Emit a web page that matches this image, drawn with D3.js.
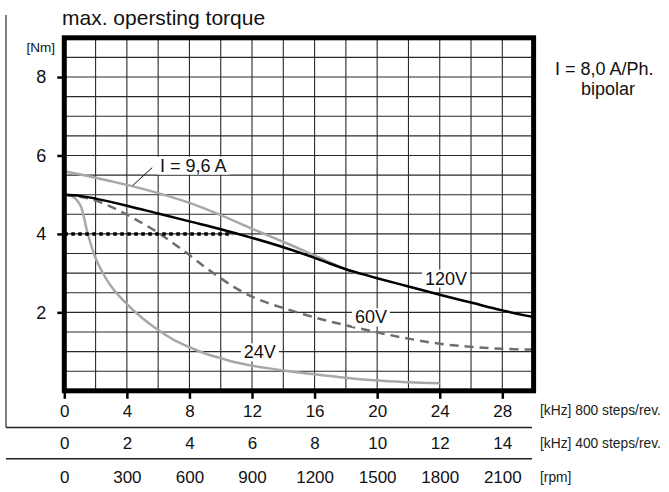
<!DOCTYPE html>
<html>
<head>
<meta charset="utf-8">
<script src="https://cdn.jsdelivr.net/npm/d3@7"></script>
<style>
  html, body { margin: 0; padding: 0; background: #fff; }
  svg { display: block; font-family: "Liberation Sans", Arial, sans-serif; }
</style>
</head>
<body>
<svg id="chart" width="669" height="492"></svg>
<script>
// ---- Data ----
const kHz800Ticks = [0, 4, 8, 12, 16, 20, 24, 28];
const kHz400Ticks = [0, 2, 4, 6, 8, 10, 12, 14];
const rpmTicks = [0, 300, 600, 900, 1200, 1500, 1800, 2100];
const torqueTicks = [2, 4, 6, 8];

// curve: I = 9,6 A (light gray)
const curve96A = [[0,5.6],[2,5.43],[4,5.25],[6,5.04],[8,4.79],[10,4.48],[12,4.13],[14,3.8],[16,3.45],[18,3.1],[19,2.97]];
// curve: 120V (black)
const curve120V = [[0,5.0],[1,4.97],[2,4.9],[4,4.72],[6,4.52],[8,4.32],[10,4.12],[12,3.9],[14,3.66],[16,3.39],[17,3.24],[18,3.1],[19,2.98],[20,2.87],[22,2.66],[24,2.45],[26,2.25],[28,2.05],[30,1.88]];
// curve: 60V (dashed)
const curve60V = [[0,5.0],[1,4.95],[2,4.85],[3,4.69],[4,4.49],[5,4.27],[6,4.03],[7,3.75],[8,3.46],[9,3.15],[10,2.87],[11,2.61],[12,2.4],[13,2.24],[14,2.11],[16,1.87],[18,1.67],[20,1.49],[22,1.33],[24,1.2],[26,1.12],[28,1.07],[30,1.05]];
// curve: 24V (light gray)
const curve24V = [[0,5.0],[0.5,4.96],[1,4.75],[1.5,4.0],[2,3.38],[2.5,2.98],[3,2.66],[4,2.21],[5,1.85],[6,1.55],[7,1.3],[8,1.11],[9,0.95],[10,0.83],[11,0.72],[12,0.64],[14,0.52],[16,0.42],[18,0.33],[20,0.26],[22,0.22],[24,0.19]];
// dotted limit line 4 Nm
const limit4Nm = [[0,4.0],[10.75,4.0]];

const curveLabels = [
  {text: "I = 9,6 A", x: 8.24, y: 5.74},
  {text: "120V", x: 24.4, y: 2.86},
  {text: "60V", x: 19.6, y: 1.87},
  {text: "24V", x: 12.5, y: 0.98}
];
const leader96A = [[4.36,5.23],[5.62,5.69]];

// ---- Scales ----
const svg = d3.select("#chart");
const x = d3.scaleLinear().domain([0, 30]).range([64.3, 533.6]);
const y = d3.scaleLinear().domain([0, 9]).range([390.8, 37.8]);
const x400 = d3.scaleLinear().domain([0, 15]).range(x.range());
const xrpm = d3.scaleLinear().domain([0, 2250]).range(x.range());
const FONT = "Liberation Sans, Arial, sans-serif";

// ---- Outer guide lines ----
svg.append("line").attr("x1", 6).attr("x2", 6).attr("y1", 15).attr("y2", 427.5)
  .attr("stroke", "#555").attr("stroke-width", 1.5);
svg.append("line").attr("x1", 6).attr("x2", 532).attr("y1", 427.5).attr("y2", 427.5)
  .attr("stroke", "#222").attr("stroke-width", 1.5);
svg.append("line").attr("x1", 6).attr("x2", 532).attr("y1", 458.7).attr("y2", 458.7)
  .attr("stroke", "#222").attr("stroke-width", 1.5);

// ---- Grid ----
const grid = svg.append("g");
grid.selectAll(".vg").data(d3.range(2, 30, 2)).join("line")
  .attr("x1", d => x(d)).attr("x2", d => x(d)).attr("y1", y(9)).attr("y2", y(0))
  .attr("stroke", "#2a2a2a").attr("stroke-width", 1.1);
grid.selectAll(".hg").data(d3.range(0.5, 9, 0.5)).join("line")
  .attr("x1", x(0)).attr("x2", x(30)).attr("y1", d => y(d)).attr("y2", d => y(d))
  .attr("stroke", "#2a2a2a").attr("stroke-width", 1.1);

// ---- Label backgrounds (white boxes) ----
const labG = svg.append("g");
const labTexts = curveLabels.map(l => {
  return labG.append("text").attr("x", x(l.x)).attr("y", y(l.y))
    .attr("text-anchor", "middle").attr("dominant-baseline", "central")
    .attr("font-size", 18).attr("fill", "#111").text(l.text);
});
labTexts.forEach(t => {
  const b = t.node().getBBox();
  labG.insert("rect", "text").attr("x", b.x - 3).attr("y", b.y + 1)
    .attr("width", b.width + 6).attr("height", b.height - 2).attr("fill", "#fff");
});

// ---- Curves ----
const line = d3.line().x(d => x(d[0])).y(d => y(d[1])).curve(d3.curveCatmullRom.alpha(0.5));
const straight = d3.line().x(d => x(d[0])).y(d => y(d[1]));
const curvesG = svg.append("g").attr("fill", "none");
curvesG.append("path").datum(curve96A).attr("d", line).attr("stroke", "#a8a8a8").attr("stroke-width", 2.5);
curvesG.append("path").datum(curve24V).attr("d", line).attr("stroke", "#a8a8a8").attr("stroke-width", 2.5);
curvesG.append("path").datum(curve60V).attr("d", line).attr("stroke", "#6e6e6e").attr("stroke-width", 2.5)
  .attr("stroke-dasharray", "9,6");
curvesG.append("path").datum(curve120V).attr("d", line).attr("stroke", "#000").attr("stroke-width", 2.5);
curvesG.append("path").datum(limit4Nm).attr("d", straight)
  .attr("stroke", "#000").attr("stroke-width", 3.5).attr("stroke-dasharray", "3.5,3.5");
curvesG.append("path").datum(leader96A).attr("d", straight)
  .attr("stroke", "#111").attr("stroke-width", 1);

labG.raise();

// ---- Frame ----
svg.append("rect").attr("x", x(0)).attr("y", y(9)).attr("width", x(30) - x(0)).attr("height", y(0) - y(9))
  .attr("fill", "none").attr("stroke", "#000").attr("stroke-width", 5);

// ---- Axes ----
const xAxis = svg.append("g").attr("transform", `translate(0,${y(0)})`)
  .call(d3.axisBottom(x).tickValues(kHz800Ticks).tickSize(8).tickPadding(6).tickSizeOuter(0));
xAxis.select(".domain").remove();
xAxis.selectAll(".tick line").attr("stroke", "#000").attr("stroke-width", 2.5);
xAxis.selectAll(".tick text").attr("font-size", 17).attr("fill", "#111").attr("font-family", FONT);

const yAxis = svg.append("g").attr("transform", `translate(${x(0)},0)`)
  .call(d3.axisLeft(y).tickValues(torqueTicks).tickSize(7).tickPadding(11).tickSizeOuter(0));
yAxis.select(".domain").remove();
yAxis.selectAll(".tick line").attr("stroke", "#000").attr("stroke-width", 2.5);
yAxis.selectAll(".tick text").attr("font-size", 18).attr("fill", "#111").attr("font-family", FONT);

const ax400 = svg.append("g").attr("transform", "translate(0,432.5)")
  .call(d3.axisBottom(x400).tickValues(kHz400Ticks).tickSize(0).tickPadding(4).tickFormat(d3.format("d")));
ax400.select(".domain").remove();
ax400.selectAll(".tick text").attr("font-size", 17).attr("fill", "#111").attr("font-family", FONT);

const axRpm = svg.append("g").attr("transform", "translate(0,466.5)")
  .call(d3.axisBottom(xrpm).tickValues(rpmTicks).tickSize(0).tickPadding(4).tickFormat(d3.format("d")));
axRpm.select(".domain").remove();
axRpm.selectAll(".tick text").attr("font-size", 17).attr("fill", "#111").attr("font-family", FONT);

// ---- Texts ----
svg.append("text").attr("x", 62).attr("y", 25).attr("font-size", 21).attr("fill", "#111")
  .text("max. opersting torque");
svg.append("text").attr("x", 55).attr("y", 51.5).attr("text-anchor", "end").attr("font-size", 13.5).attr("fill", "#111")
  .text("[Nm]");
svg.append("text").attr("x", 555).attr("y", 75).attr("font-size", 18).attr("fill", "#111")
  .text("I = 8,0 A/Ph.");
svg.append("text").attr("x", 608).attr("y", 95).attr("text-anchor", "middle").attr("font-size", 18).attr("fill", "#111")
  .text("bipolar");
const unitLabels = ["[kHz] 800 steps/rev.", "[kHz] 400 steps/rev.", "[rpm]"];
const unitY = [414.5, 448, 482];
unitLabels.forEach((t, i) => {
  svg.append("text").attr("x", 540).attr("y", unitY[i]).attr("font-size", 13.8).attr("fill", "#222").text(t);
});
</script>
</body>
</html>
